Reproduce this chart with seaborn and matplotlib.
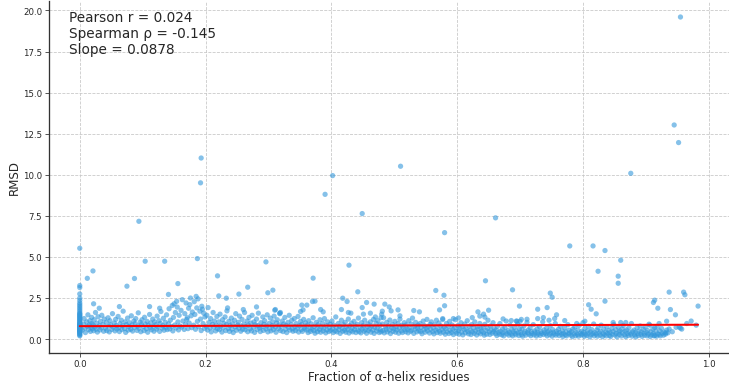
import matplotlib
matplotlib.use("Agg")
import matplotlib.pyplot as plt
import seaborn as sns
import pandas as pd

# ---------------- data ----------------
zero_col_y = [0.20, 0.25, 0.30, 0.35, 0.40, 0.42, 0.45, 0.50, 0.52, 0.55, 0.58, 0.60, 0.62, 0.65, 0.68,
              0.70, 0.72, 0.75, 0.78, 0.80, 0.82, 0.85, 0.88, 0.90, 0.93, 0.95, 1.00, 1.05,
              1.10, 1.15, 1.20, 1.25, 1.30, 1.35, 1.40, 1.45, 1.50, 1.55, 1.60, 1.70, 1.80,
              1.90, 2.00, 2.10, 2.20, 2.35, 2.50, 2.75, 3.14, 3.26, 5.53]

band_low_x = [  # alpha fraction 0.00 - 0.36
    0.004, 0.006, 0.007, 0.008, 0.009, 0.011, 0.012, 0.013, 0.014, 0.015, 0.016, 0.017, 0.018, 0.019, 0.019, 0.020,
    0.021, 0.022, 0.023, 0.024, 0.025, 0.026, 0.027, 0.028, 0.029, 0.031, 0.032, 0.033, 0.034, 0.035, 0.037, 0.038, 0.039,
    0.041, 0.042, 0.043, 0.045, 0.046, 0.047, 0.048, 0.049, 0.051, 0.052, 0.053, 0.055, 0.056, 0.057, 0.058, 0.059,
    0.061, 0.062, 0.063, 0.064, 0.066, 0.067, 0.068, 0.069, 0.071, 0.072, 0.073, 0.074, 0.076, 0.077, 0.078, 0.079,
    0.081, 0.082, 0.083, 0.084, 0.086, 0.087, 0.088, 0.089, 0.091, 0.092, 0.093, 0.094, 0.096, 0.097, 0.098, 0.099,
    0.101, 0.102, 0.103, 0.104, 0.106, 0.107, 0.108, 0.109, 0.111, 0.112, 0.113, 0.114, 0.116, 0.117, 0.118, 0.119,
    0.121, 0.122, 0.123, 0.124, 0.126, 0.127, 0.128, 0.129, 0.131, 0.132, 0.133, 0.134, 0.136, 0.137, 0.138, 0.139,
    0.141, 0.142, 0.143, 0.144, 0.146, 0.147, 0.148, 0.149, 0.151, 0.152, 0.153, 0.154, 0.156, 0.157, 0.158, 0.159, 0.155, 0.150,
    0.161, 0.162, 0.163, 0.164, 0.166, 0.167, 0.168, 0.169, 0.171, 0.172, 0.173, 0.174, 0.176, 0.177, 0.178, 0.179, 0.175, 0.170,
    0.181, 0.182, 0.183, 0.184, 0.186, 0.187, 0.188, 0.189, 0.191, 0.192, 0.193, 0.194, 0.196, 0.197, 0.198, 0.199, 0.185, 0.195,
    0.201, 0.202, 0.203, 0.204, 0.206, 0.207, 0.208, 0.209, 0.211, 0.212, 0.213, 0.214, 0.216, 0.217, 0.218, 0.219,
    0.221, 0.222, 0.223, 0.224, 0.226, 0.227, 0.228, 0.229, 0.231, 0.232, 0.233, 0.234, 0.236, 0.237, 0.238, 0.239,
    0.241, 0.242, 0.243, 0.244, 0.246, 0.247, 0.248, 0.249, 0.251, 0.252, 0.253, 0.254, 0.256, 0.257, 0.258, 0.259,
    0.261, 0.262, 0.263, 0.264, 0.266, 0.267, 0.268, 0.269, 0.271, 0.272, 0.273, 0.274, 0.276, 0.277, 0.278, 0.279,
    0.281, 0.282, 0.283, 0.284, 0.286, 0.287, 0.288, 0.289, 0.291, 0.292, 0.293, 0.294, 0.296, 0.297, 0.298, 0.299,
    0.301, 0.302, 0.303, 0.304, 0.306, 0.307, 0.308, 0.309, 0.311, 0.312, 0.313, 0.314, 0.316, 0.317, 0.318, 0.319,
    0.321, 0.322, 0.323, 0.324, 0.326, 0.327, 0.328, 0.329, 0.331, 0.332, 0.333, 0.334, 0.336, 0.337, 0.338, 0.339,
    0.341, 0.342, 0.343, 0.344, 0.346, 0.347, 0.348, 0.349, 0.351, 0.352, 0.353, 0.354, 0.356, 0.357, 0.358, 0.359,
]
band_low_y = [
    0.55, 0.92, 1.25, 0.68, 0.40, 1.05, 0.78, 1.48, 0.58, 0.85, 1.12, 0.47, 0.72, 1.32, 0.95, 0.63,
    0.88, 0.51, 1.18, 0.74, 1.62, 0.60, 0.97, 0.43, 1.36, 0.81, 0.56, 1.08, 0.69, 1.45, 0.90, 0.48, 1.22,
    0.66, 1.02, 0.52, 1.30, 0.79, 0.44, 1.12, 0.87, 0.59, 1.55, 0.73, 0.98, 0.50, 1.20, 0.83, 0.62,
    1.38, 0.70, 0.46, 0.94, 1.15, 0.58, 0.82, 1.70, 0.64, 1.05, 0.41, 0.88, 1.28, 0.55, 0.76, 1.00,
    0.60, 1.42, 0.86, 0.49, 1.10, 0.71, 0.95, 1.25, 0.53, 0.80, 1.60, 0.66, 1.03, 0.45, 0.89, 1.18,
    0.75, 0.52, 1.33, 0.92, 0.63, 1.08, 0.42, 0.84, 1.50, 0.69, 0.99, 0.57, 1.22, 0.78, 0.48, 1.05,
    0.88, 0.61, 1.40, 0.74, 1.12, 0.47, 0.96, 1.68, 0.67, 0.82, 1.27, 0.54, 1.02, 0.72, 1.48, 0.58,
    0.93, 1.85, 0.62, 1.15, 0.77, 2.05, 0.50, 1.32, 0.86, 1.62, 0.68, 2.30, 1.05, 0.56, 1.45, 0.80, 1.95, 2.15,
    1.75, 0.73, 2.40, 1.10, 0.59, 1.55, 0.90, 2.20, 1.30, 0.64, 1.88, 0.98, 2.50, 1.42, 0.70, 1.65, 2.10, 1.20,
    0.85, 2.28, 1.50, 0.60, 1.90, 1.08, 2.45, 0.75, 1.70, 1.22, 0.52, 2.00, 0.95, 1.58, 0.66, 1.35, 2.60, 1.82,
    0.78, 1.45, 0.55, 1.92, 1.02, 0.68, 1.25, 0.44, 0.90, 1.62, 0.72, 1.10, 0.50, 0.84, 1.38, 0.63,
    1.05, 0.58, 1.52, 0.80, 0.43, 1.18, 0.70, 0.96, 1.35, 0.52, 0.88, 1.72, 0.65, 1.08, 0.47, 0.82,
    1.28, 0.61, 0.93, 0.40, 1.15, 0.74, 1.55, 0.54, 0.86, 1.02, 0.66, 1.40, 0.48, 0.79, 1.20, 0.60,
    0.92, 1.62, 0.57, 0.76, 1.10, 0.45, 0.85, 1.32, 0.63, 0.98, 0.50, 1.45, 0.72, 1.05, 0.41, 0.88,
    1.22, 0.59, 0.83, 1.58, 0.68, 0.46, 1.00, 0.75, 1.35, 0.53, 0.90, 1.12, 0.62, 0.80, 1.48, 0.44,
    0.95, 0.67, 1.28, 0.50, 0.82, 1.05, 0.58, 1.40, 0.73, 0.42, 0.98, 1.18, 0.64, 0.87, 1.55, 0.52,
    0.78, 1.10, 0.46, 0.92, 1.32, 0.60, 0.84, 0.40, 1.02, 0.70, 1.45, 0.55, 0.88, 1.15, 0.63, 0.48,
    1.25, 0.76, 0.52, 0.95, 0.66, 1.38, 0.43, 0.82, 1.08, 0.58, 0.90, 0.47, 1.20, 0.71, 0.62, 0.99,
]

band_mid_x = [  # alpha fraction 0.36 - 0.66
    0.361, 0.362, 0.363, 0.364, 0.366, 0.367, 0.368, 0.369, 0.371, 0.372, 0.373, 0.374, 0.376, 0.377, 0.378, 0.379,
    0.381, 0.382, 0.383, 0.384, 0.386, 0.387, 0.388, 0.389, 0.391, 0.392, 0.393, 0.394, 0.396, 0.397, 0.398, 0.399,
    0.401, 0.402, 0.403, 0.404, 0.406, 0.407, 0.408, 0.409, 0.411, 0.412, 0.413, 0.414, 0.416, 0.417, 0.418, 0.419,
    0.421, 0.422, 0.423, 0.424, 0.426, 0.427, 0.428, 0.429, 0.431, 0.432, 0.433, 0.434, 0.436, 0.437, 0.438, 0.439,
    0.441, 0.442, 0.443, 0.444, 0.446, 0.447, 0.448, 0.449, 0.451, 0.452, 0.453, 0.454, 0.456, 0.457, 0.458, 0.459,
    0.461, 0.462, 0.463, 0.464, 0.466, 0.467, 0.468, 0.469, 0.471, 0.472, 0.473, 0.474, 0.476, 0.477, 0.478, 0.479,
    0.481, 0.482, 0.483, 0.484, 0.486, 0.487, 0.488, 0.489, 0.491, 0.492, 0.493, 0.494, 0.496, 0.497, 0.498, 0.499,
    0.501, 0.502, 0.503, 0.504, 0.506, 0.507, 0.508, 0.509, 0.511, 0.512, 0.513, 0.514, 0.516, 0.517, 0.518, 0.519,
    0.521, 0.522, 0.523, 0.524, 0.526, 0.527, 0.528, 0.529, 0.531, 0.532, 0.533, 0.534, 0.536, 0.537, 0.538, 0.539,
    0.541, 0.542, 0.543, 0.544, 0.546, 0.547, 0.548, 0.549, 0.551, 0.552, 0.553, 0.554, 0.556, 0.557, 0.558, 0.559,
    0.561, 0.562, 0.563, 0.564, 0.566, 0.567, 0.568, 0.569, 0.571, 0.572, 0.573, 0.574, 0.576, 0.577, 0.578, 0.579,
    0.581, 0.582, 0.583, 0.584, 0.586, 0.587, 0.588, 0.589, 0.591, 0.592, 0.593, 0.594, 0.596, 0.597, 0.598, 0.599,
    0.601, 0.602, 0.603, 0.604, 0.606, 0.607, 0.608, 0.609, 0.611, 0.612, 0.613, 0.614, 0.616, 0.617, 0.618, 0.619,
    0.621, 0.622, 0.623, 0.624, 0.626, 0.627, 0.628, 0.629, 0.631, 0.632, 0.633, 0.634, 0.636, 0.637, 0.638, 0.639,
    0.641, 0.642, 0.643, 0.644, 0.646, 0.647, 0.648, 0.649, 0.651, 0.652, 0.653, 0.654, 0.656, 0.657, 0.658, 0.659,
]
band_mid_y = [
    0.55, 0.85, 0.40, 1.12, 0.68, 0.47, 0.93, 0.60, 1.30, 0.52, 0.77, 0.36, 1.02, 0.64, 0.45, 0.88,
    0.58, 1.18, 0.42, 0.74, 0.96, 0.50, 0.66, 1.25, 0.38, 0.82, 0.56, 1.05, 0.46, 0.71, 0.90, 0.53,
    1.10, 0.62, 0.40, 0.85, 0.50, 1.35, 0.70, 0.44, 0.95, 0.58, 0.78, 0.35, 1.15, 0.65, 0.48, 0.88,
    0.54, 1.02, 0.42, 0.73, 0.60, 1.22, 0.37, 0.82, 0.51, 0.97, 0.66, 0.44, 1.08, 0.58, 0.79, 0.40,
    0.90, 0.55, 1.28, 0.45, 0.70, 0.38, 1.00, 0.62, 0.84, 0.48, 1.15, 0.57, 0.36, 0.76, 0.93, 0.52,
    0.64, 1.05, 0.42, 0.80, 0.55, 1.20, 0.35, 0.72, 0.96, 0.49, 0.66, 1.12, 0.40, 0.86, 0.58, 0.45,
    0.92, 0.52, 1.30, 0.38, 0.74, 0.60, 1.02, 0.44, 0.81, 0.55, 1.16, 0.34, 0.68, 0.90, 0.47, 0.63,
    1.08, 0.42, 0.75, 0.56, 0.95, 0.36, 0.66, 1.22, 0.50, 0.84, 0.40, 0.72, 1.00, 0.58, 0.45, 0.87,
    0.60, 0.38, 1.12, 0.70, 0.48, 0.92, 0.55, 1.28, 0.35, 0.78, 0.62, 1.02, 0.44, 0.68, 0.85, 0.52,
    0.95, 0.46, 0.72, 0.33, 1.10, 0.58, 0.82, 0.42, 0.66, 1.20, 0.50, 0.76, 0.37, 0.90, 0.60, 1.05,
    0.45, 0.70, 0.32, 0.88, 0.55, 1.15, 0.40, 0.64, 0.98, 0.48, 0.36, 0.80, 0.58, 1.25, 0.42, 0.72,
    0.30, 0.62, 0.95, 0.45, 0.78, 0.34, 1.08, 0.54, 0.40, 0.86, 0.60, 0.28, 0.70, 1.18, 0.48, 0.36,
    0.82, 0.52, 0.30, 0.66, 1.00, 0.42, 0.74, 0.26, 0.58, 0.92, 0.38, 0.62, 1.12, 0.46, 0.32, 0.78,
    0.55, 0.28, 0.88, 0.44, 0.68, 0.35, 1.05, 0.50, 0.25, 0.76, 0.60, 0.40, 0.95, 0.32, 0.64, 0.48,
    0.72, 0.38, 0.24, 0.90, 0.52, 0.30, 0.66, 1.15, 0.44, 0.28, 0.80, 0.56, 0.36, 1.00, 0.46, 0.62,
]

band_high_x = [  # alpha fraction 0.66 - 0.98
    0.661, 0.662, 0.663, 0.664, 0.666, 0.667, 0.668, 0.669, 0.671, 0.672, 0.673, 0.674, 0.676, 0.677, 0.678, 0.679,
    0.681, 0.682, 0.683, 0.684, 0.686, 0.687, 0.688, 0.689, 0.691, 0.692, 0.693, 0.694, 0.696, 0.697, 0.698, 0.699,
    0.701, 0.702, 0.703, 0.704, 0.706, 0.707, 0.708, 0.709, 0.711, 0.712, 0.713, 0.714, 0.716, 0.717, 0.718, 0.719,
    0.721, 0.722, 0.723, 0.724, 0.726, 0.727, 0.728, 0.729, 0.731, 0.732, 0.733, 0.734, 0.736, 0.737, 0.738, 0.739,
    0.741, 0.742, 0.743, 0.744, 0.746, 0.747, 0.748, 0.749, 0.751, 0.752, 0.753, 0.754, 0.756, 0.757, 0.758, 0.759,
    0.761, 0.762, 0.763, 0.764, 0.766, 0.767, 0.768, 0.769, 0.771, 0.772, 0.773, 0.774, 0.776, 0.777, 0.778, 0.779,
    0.781, 0.782, 0.783, 0.784, 0.786, 0.787, 0.788, 0.789, 0.791, 0.792, 0.793, 0.794, 0.796, 0.797, 0.798, 0.799,
    0.801, 0.802, 0.803, 0.804, 0.806, 0.807, 0.808, 0.809, 0.811, 0.812, 0.813, 0.814, 0.816, 0.817, 0.818, 0.819,
    0.821, 0.822, 0.823, 0.824, 0.826, 0.827, 0.828, 0.829, 0.831, 0.832, 0.833, 0.834, 0.836, 0.837, 0.838, 0.839,
    0.841, 0.842, 0.843, 0.844, 0.846, 0.847, 0.848, 0.849, 0.851, 0.852, 0.853, 0.854, 0.856, 0.857, 0.858, 0.859,
    0.861, 0.862, 0.863, 0.864, 0.866, 0.867, 0.868, 0.869, 0.871, 0.872, 0.873, 0.874, 0.876, 0.877, 0.878, 0.879,
    0.881, 0.882, 0.883, 0.884, 0.886, 0.887, 0.888, 0.889, 0.891, 0.892, 0.893, 0.894, 0.896, 0.897, 0.898, 0.899,
    0.901, 0.902, 0.903, 0.904, 0.906, 0.907, 0.908, 0.909, 0.911, 0.912, 0.914, 0.916, 0.917, 0.918, 0.919,
    0.921, 0.922, 0.923, 0.925, 0.926, 0.928, 0.929, 0.931, 0.933, 0.935, 0.937,
    0.942, 0.948, 0.965, 0.972, 0.980,
]
band_high_y = [
    0.34, 0.55, 0.22, 0.78, 0.42, 0.30, 0.95, 0.48, 0.26, 0.62, 0.38, 0.20, 0.70, 0.44, 1.10, 0.32,
    0.52, 0.24, 0.40, 0.85, 0.30, 0.58, 0.20, 0.45, 0.72, 0.35, 0.26, 0.50, 0.92, 0.38, 0.22, 0.64,
    0.42, 0.28, 0.60, 0.18, 0.80, 0.36, 0.48, 0.24, 1.02, 0.40, 0.55, 0.30, 0.68, 0.21, 0.45, 0.34,
    0.88, 0.26, 0.50, 0.38, 0.19, 0.62, 0.42, 0.30, 0.75, 0.23, 0.47, 0.35, 1.05, 0.28, 0.56, 0.40,
    0.32, 0.66, 0.20, 0.44, 0.52, 0.27, 0.82, 0.37, 0.18, 0.58, 0.42, 0.30, 0.95, 0.24, 0.48, 0.34,
    0.60, 0.22, 0.40, 0.78, 0.29, 0.50, 0.16, 0.36, 0.68, 0.26, 0.44, 0.20, 0.88, 0.32, 0.54, 0.38,
    0.24, 0.46, 0.15, 0.62, 0.33, 0.72, 0.20, 0.40, 0.28, 0.55, 0.18, 0.84, 0.36, 0.25, 0.48, 0.30,
    0.42, 0.17, 0.65, 0.30, 0.22, 0.50, 0.36, 0.78, 0.14, 0.44, 0.27, 0.58, 0.33, 0.92, 0.20, 0.40,
    0.30, 0.55, 0.18, 0.70, 0.38, 0.24, 0.48, 0.85, 0.15, 0.34, 0.62, 0.26, 0.44, 0.20, 0.75, 0.36,
    0.52, 0.22, 0.40, 0.16, 0.66, 0.30, 0.46, 0.88, 0.25, 0.58, 0.35, 0.14, 0.72, 0.42, 0.28, 0.50,
    0.19, 0.62, 0.38, 0.82, 0.27, 0.48, 0.15, 0.56, 0.34, 0.22, 0.70, 0.42, 0.30, 0.95, 0.18, 0.45,
    0.55, 0.26, 0.40, 0.14, 0.68, 0.33, 0.22, 0.50, 0.80, 0.29, 0.44, 0.17, 0.60, 0.36, 0.24, 0.72,
    0.40, 0.20, 0.52, 0.30, 0.85, 0.16, 0.44, 0.26, 0.62, 0.35, 0.22, 0.48, 0.18, 0.75, 0.32,
    0.28, 0.50, 0.20, 0.65, 0.36, 0.24, 0.42, 0.30, 0.55, 0.38, 0.62,
    0.45, 0.72, 0.95, 1.10, 0.85,
]

outlier_x = [
    0.012, 0.021, 0.094, 0.104, 0.135, 0.087, 0.075, 0.193, 0.192, 0.187, 0.219, 0.221, 0.233, 0.156,
    0.141, 0.022, 0.031, 0.063, 0.111, 0.127,
    0.402, 0.390, 0.449, 0.296, 0.428, 0.371, 0.267, 0.307, 0.299, 0.253, 0.442, 0.235, 0.260, 0.281,
    0.310, 0.353, 0.361, 0.370, 0.383, 0.387, 0.418, 0.425, 0.416, 0.456, 0.468, 0.449, 0.462, 0.431,
    0.318, 0.355, 0.351, 0.374, 0.311, 0.319, 0.427, 0.451, 0.470,
    0.510, 0.661, 0.580, 0.645, 0.566, 0.688, 0.579, 0.485, 0.492, 0.495, 0.481, 0.506, 0.509, 0.531,
    0.540, 0.580, 0.572, 0.577, 0.594, 0.633, 0.642, 0.636, 0.650, 0.644, 0.673, 0.699, 0.686, 0.695,
    0.702, 0.728, 0.624, 0.480, 0.479, 0.602, 0.711, 0.694, 0.700,
    0.876, 0.779, 0.816, 0.835, 0.860, 0.824, 0.856, 0.856, 0.748, 0.751, 0.743, 0.758, 0.755, 0.746,
    0.737, 0.728, 0.771, 0.835, 0.809, 0.813, 0.821, 0.803, 0.800, 0.790, 0.848, 0.860, 0.868,
    0.912, 0.914, 0.919, 0.937, 0.960, 0.962, 0.983, 0.939, 0.947, 0.933, 0.921, 0.953, 0.955, 0.957,
    0.914, 0.905, 0.913, 0.932,
    0.955, 0.945, 0.952,
]
outlier_y = [
    3.70, 4.15, 7.17, 4.74, 4.74, 3.69, 3.22, 11.02, 9.51, 4.90, 3.85, 2.63, 2.49, 3.38,
    2.72, 2.15, 1.88, 1.98, 1.98, 1.88,
    9.95, 8.81, 7.64, 4.70, 4.50, 3.71, 3.16, 2.98, 2.82, 2.74, 2.88, 1.90, 1.80, 1.96,
    1.76, 2.07, 2.07, 2.29, 1.80, 1.66, 2.49, 2.29, 1.80, 2.23, 2.13, 1.92, 1.58, 1.58,
    1.58, 1.78, 1.68, 2.31, 1.80, 1.62, 1.62, 1.52, 1.35,
    10.52, 7.38, 6.48, 3.55, 2.96, 3.00, 2.67, 2.13, 1.96, 1.72, 1.70, 1.78, 1.42, 1.74,
    1.66, 2.03, 1.78, 1.19, 1.25, 1.66, 1.52, 1.40, 1.76, 1.34, 1.23, 2.01, 1.13, 1.09,
    1.20, 1.82, 1.31, 1.52, 1.31, 1.29, 1.21, 1.10, 1.08,
    10.09, 5.67, 5.67, 5.39, 4.80, 4.13, 3.83, 3.40, 2.80, 2.55, 1.92, 1.48, 1.25, 1.15,
    1.31, 1.25, 1.13, 2.31, 2.09, 1.82, 1.54, 1.09, 1.00, 0.95, 1.01, 1.01, 1.01,
    2.23, 2.37, 1.88, 2.86, 2.86, 2.70, 2.01, 1.80, 1.48, 1.09, 0.95, 0.73, 0.67, 0.61,
    0.70, 0.91, 0.20, 0.38,
    19.60, 13.03, 11.96,
]

# regression summary shown in the chart
pearson_r = 0.024
spearman_rho = -0.145
slope = 0.0878
intercept = 0.79
fit_x = [0.0, 0.983]

x_ticks = [0.0, 0.2, 0.4, 0.6, 0.8, 1.0]
y_ticks = [0.0, 2.5, 5.0, 7.5, 10.0, 12.5, 15.0, 17.5, 20.0]

# ---------------- assemble ----------------
xs = [0.0] * len(zero_col_y) + band_low_x + band_mid_x + band_high_x + outlier_x
ys = zero_col_y + band_low_y + band_mid_y + band_high_y + outlier_y
df = pd.DataFrame({"x": xs, "y": ys})
fit_df = pd.DataFrame({"x": fit_x, "y": [intercept + slope * v for v in fit_x]})

# ---------------- plot ----------------
sns.set_style("ticks")
plt.rcParams["font.family"] = ["DejaVu Sans"]

fig = plt.figure(figsize=(10, 5.28), dpi=72.9)
ax = fig.add_axes([0.067, 0.081, 0.933, 0.914])

ax.grid(True, linestyle="--", color="#c8c8c8", linewidth=0.8)
ax.set_axisbelow(True)

sns.scatterplot(data=df, x="x", y="y", ax=ax, color="#3498db", alpha=0.6,
                s=27, edgecolor="none", linewidth=0, zorder=2)
sns.lineplot(data=fit_df, x="x", y="y", ax=ax, color="red", linewidth=2, zorder=3)

ax.set_xticks(x_ticks)
ax.set_yticks(y_ticks)
ax.set_xticklabels([f"{t:.1f}" for t in x_ticks], fontsize=8.5)
ax.set_yticklabels([f"{t:.1f}" for t in y_ticks], fontsize=8.5)
ax.set_xlabel("Fraction of α-helix residues", fontsize=11.7, labelpad=1.5)
ax.set_ylabel("RMSD", fontsize=11.7, labelpad=2.5)

for side in ["top", "right"]:
    ax.spines[side].set_visible(False)
for side in ["left", "bottom"]:
    ax.spines[side].set_linewidth(1.3)
    ax.spines[side].set_color("#333333")
ax.tick_params(length=3.5, width=0.8, color="#333333", pad=3)

ax.text(0.03, 0.975,
        f"Pearson r = {pearson_r:.3f}\nSpearman ρ = {spearman_rho:.3f}\nSlope = {slope:.4f}",
        transform=ax.transAxes, ha="left", va="top", fontsize=13.5)

fig.savefig("out.png", dpi=72.9)
